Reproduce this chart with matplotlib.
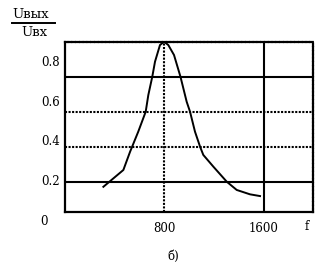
import matplotlib
matplotlib.use("Agg")
import matplotlib.pyplot as plt
from matplotlib.lines import Line2D

# frequency response
freq = [309, 470, 524, 590, 650, 671, 703, 725, 765, 798, 832, 878, 930,
        980, 1007, 1047, 1088, 1114, 1195, 1303, 1383, 1490, 1571]
gain = [0.171, 0.267, 0.371, 0.486, 0.600, 0.695, 0.800, 0.886, 0.981, 1.000,
        0.981, 0.924, 0.800, 0.657, 0.600, 0.486, 0.400, 0.353, 0.286, 0.200,
        0.153, 0.128, 0.118]

ytick_vals = [0, 0.2, 0.4, 0.6, 0.8]
ytick_text = ["0", "0.2", "0.4", "0.6", "0.8"]
xtick_vals = [800, 1600]
xtick_text = ["800", "1600"]
hgrid = [0.2, 0.4, 0.6, 0.8]
vgrid = [800, 1600]

plt.rcParams['font.family'] = ['DejaVu Serif']
fs = 8.5

fig = plt.figure(figsize=(3.27, 2.72), dpi=100)
ax = fig.add_axes([0.1988, 0.2206, 0.7593, 0.6261])
ax.set_xlim(0, 2000)
ax.set_ylim(0.027, 1.0)

dotted = (0, (1, 0.7))
solid_h = {0.2, 0.8}
for v in hgrid:
    ls = '-' if v in solid_h else dotted
    ax.axhline(v, color='black', lw=1.5, ls=ls, zorder=1)
for v in vgrid:
    ls = '-' if v == 1600 else dotted
    ax.axvline(v, color='black', lw=1.5, ls=ls, zorder=1)

for side in ['left', 'bottom']:
    ax.spines[side].set_linewidth(1.6)
for side in ['top', 'right']:
    ax.spines[side].set_linewidth(1.6)
    ax.spines[side].set_linestyle(dotted)

ax.plot(freq, gain, color='black', lw=1.4, zorder=3)

ax.set_xticks(xtick_vals)
ax.set_xticklabels(xtick_text, fontsize=fs)
ax.tick_params(axis='x', length=0, pad=7)
ax.set_yticks([])

# y labels sit on their own (slightly stretched) scale in the original
ytr = ax.get_yaxis_transform()
for v, t in zip(ytick_vals, ytick_text):
    if v == 0:
        ax.text(-0.085, 1.1325 * v - 0.025, t, transform=ytr, ha='center',
                va='center', fontsize=fs, clip_on=False)
    else:
        ax.text(-0.02, 1.1325 * v - 0.025, t, transform=ytr, ha='right',
                va='center', fontsize=fs, clip_on=False)

fig.text(0.0948, 0.9449, "Uвых", ha='center', va='center', fontsize=9.5)
fig.add_artist(Line2D([0.0367, 0.168], [0.9143, 0.9143], color='black', lw=1.4))
fig.text(0.104, 0.8787, "Uвх", ha='center', va='center', fontsize=9.5)
fig.text(0.939, 0.169, "f", ha='center', va='center', fontsize=fs)
fig.text(0.529, 0.0588, "б)", ha='center', va='center', fontsize=fs)

fig.savefig("out.png", dpi=100)
